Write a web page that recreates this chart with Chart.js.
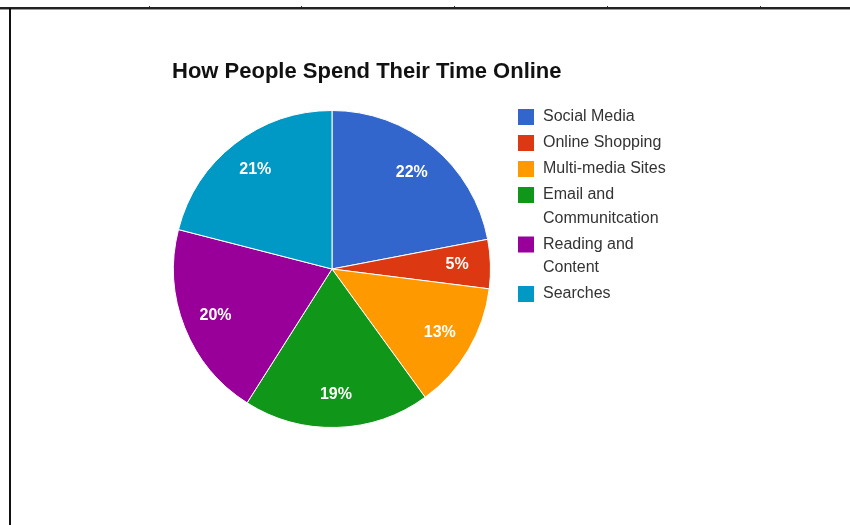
<!DOCTYPE html>
<html>
<head>
<meta charset="utf-8">
<script src="https://cdn.jsdelivr.net/npm/chart.js@4"></script>
<style>
  body { margin: 0; background: #fff; }
  #wrap { position: relative; width: 850px; height: 525px; }
  #topLine { position: absolute; left: 0; top: 7px; width: 850px; height: 2px; background: #222; border-bottom: 1px solid #999; }
  #leftLine { position: absolute; left: 9px; top: 8px; width: 2px; height: 517px; background: #111; }
  .tick { position: absolute; top: 6px; width: 1px; height: 1px; background: #333; }
</style>
</head>
<body>
<div id="wrap">
  <canvas id="myChart" width="850" height="525"></canvas>
  <div id="topLine"></div>
  <div id="leftLine"></div>
  <div class="tick" style="left:149px"></div>
  <div class="tick" style="left:301px"></div>
  <div class="tick" style="left:454px"></div>
  <div class="tick" style="left:607px"></div>
  <div class="tick" style="left:760px"></div>
</div>
<script>
const title = 'How People Spend Their Time Online';
const labels = [
  'Social Media',
  'Online Shopping',
  'Multi-media Sites',
  ['Email and', 'Communitcation'],
  ['Reading and', 'Content'],
  'Searches'
];
const shares = [22, 5, 13, 19, 20, 21];
const colors = ['#3366cc', '#dc3912', '#ff9900', '#109618', '#990099', '#0099c6'];

const FONT = 'Arial, "Liberation Sans", Helvetica, sans-serif';

// title drawn by hand, the built-in one gets squeezed to the pie width
const titlePlugin = {
  id: 'titlePlugin',
  afterDraw(chart) {
    const ctx = chart.ctx;
    ctx.save();
    ctx.fillStyle = '#111';
    ctx.font = 'bold 22px ' + FONT;
    ctx.textBaseline = 'middle';
    ctx.fillText(title, 172, 72);
    ctx.restore();
  }
};

// percent labels inside the slices
const sliceLabels = {
  id: 'sliceLabels',
  afterDatasetsDraw(chart) {
    const ctx = chart.ctx;
    const meta = chart.getDatasetMeta(0);
    ctx.save();
    ctx.fillStyle = '#fff';
    ctx.font = 'bold 16px ' + FONT;
    ctx.textAlign = 'center';
    ctx.textBaseline = 'middle';
    meta.data.forEach((arc, i) => {
      const p = arc.getProps(['x', 'y', 'startAngle', 'endAngle', 'outerRadius'], true);
      const mid = (p.startAngle + p.endAngle) / 2;
      const r = p.outerRadius * 0.79;
      ctx.fillText(shares[i] + '%', p.x + Math.cos(mid) * r, p.y + Math.sin(mid) * r);
    });
    ctx.restore();
  }
};

// legend on the right, google style
const sideLegend = {
  id: 'sideLegend',
  afterDraw(chart) {
    const ctx = chart.ctx;
    ctx.save();
    ctx.font = '16px ' + FONT;
    ctx.textBaseline = 'middle';
    let y = 117;
    labels.forEach((lab, i) => {
      const lines = Array.isArray(lab) ? lab : [lab];
      ctx.fillStyle = colors[i];
      ctx.fillRect(518, y - 8, 16, 16);
      ctx.fillStyle = '#333';
      lines.forEach((t, j) => {
        ctx.fillText(t, 543, y + j * 23.5);
      });
      y += (lines.length - 1) * 23.5 + 26;
    });
    ctx.restore();
  }
};

const data = {
  labels: labels,
  datasets: [{
    data: shares,
    backgroundColor: colors,
    borderColor: '#fff',
    borderWidth: 1
  }]
};

const config = {
  type: 'pie',
  data: data,
  options: {
    responsive: false,
    animation: false,
    layout: { padding: { left: 172, right: 358, top: 110, bottom: 97 } },
    plugins: {
      legend: { display: false },
      tooltip: { enabled: false },
      title: { display: false }
    }
  },
  plugins: [titlePlugin, sliceLabels, sideLegend]
};

const myChart = new Chart(document.getElementById('myChart'), config);
</script>
</body>
</html>
